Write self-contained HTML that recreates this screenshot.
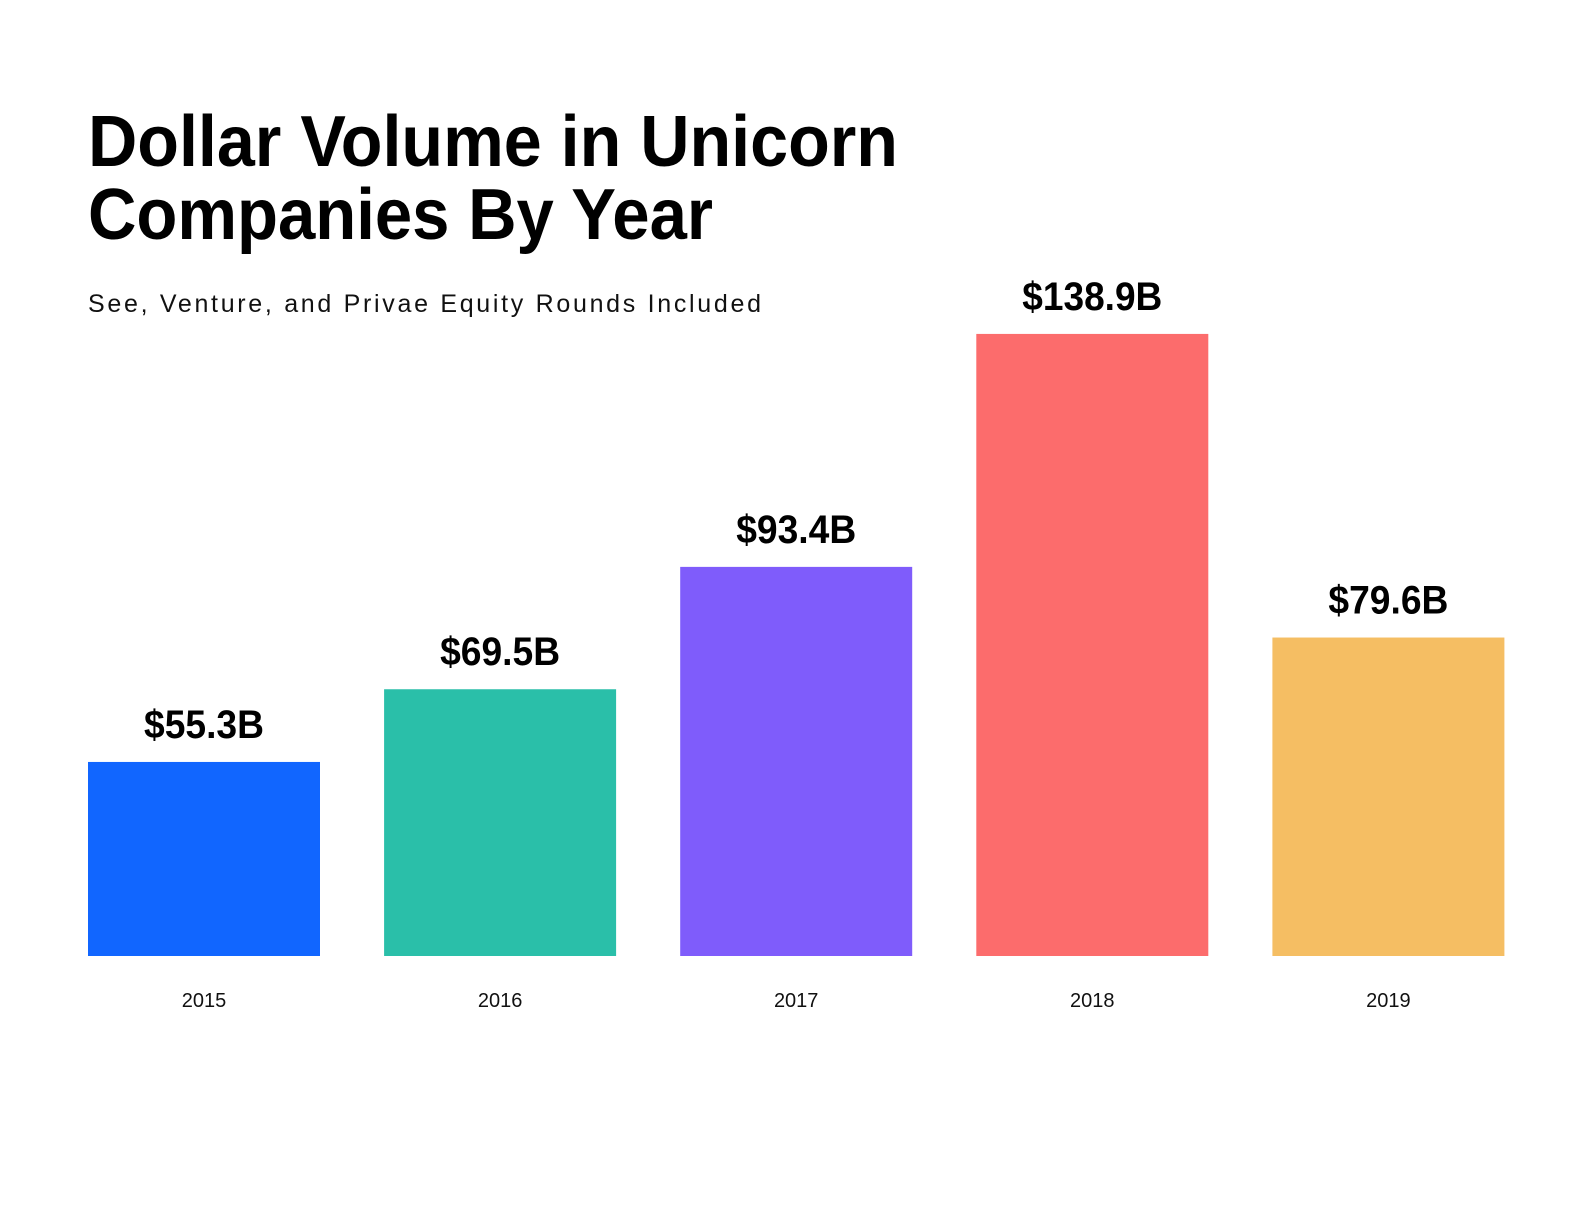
<!DOCTYPE html>
<html><head><meta charset="utf-8"><style>html,body{margin:0;padding:0;background:#fff}svg{display:block}</style></head>
<body>
<svg id="chart" width="1588" height="1212" viewBox="0 0 1588 1212" xmlns="http://www.w3.org/2000/svg" font-family="Liberation Sans, sans-serif">
<rect width="1588" height="1212" fill="#fff"/>
<text x="88" y="166" font-size="72" font-weight="bold" textLength="810" lengthAdjust="spacingAndGlyphs" fill="#000">Dollar Volume in Unicorn</text>
<text x="88" y="239" font-size="72" font-weight="bold" textLength="625" lengthAdjust="spacingAndGlyphs" fill="#000">Companies By Year</text>
<text x="88" y="312" font-size="25" textLength="673" lengthAdjust="spacing" fill="#111">See, Venture, and Privae Equity Rounds Included</text>
<g id="bars"></g>
</svg>
<script>
const categories = ["2015","2016","2017","2018","2019"];
const values = [55.3, 69.5, 93.4, 138.9, 79.6];
const valueLabels = ["$55.3B","$69.5B","$93.4B","$138.9B","$79.6B"];
const colors = ["#1166ff","#2abfa9","#7f5cfb","#fc6c6c","#f5be63"];

const NS = "http://www.w3.org/2000/svg";
const baseY = 956, domainMin = 17.4, pxPerUnit = 5.12;
const x0 = 88, step = 296.1, barW = 232;
function xScale(i){ return x0 + i*step; }
function yScale(v){ return baseY - (v - domainMin)*pxPerUnit; }
const g = document.getElementById('bars');
categories.forEach((c,i)=>{
  const x = xScale(i), y = yScale(values[i]);
  const r = document.createElementNS(NS,'rect');
  
  
  r.setAttribute('x',x); r.setAttribute('y',y);
  r.setAttribute('width',barW); r.setAttribute('height',baseY-y);
  r.setAttribute('fill',colors[i]);
  g.appendChild(r);
  const t = document.createElementNS(NS,'text');
  
  
  t.setAttribute('x',x+barW/2); t.setAttribute('y',y-24);
  t.setAttribute('text-anchor','middle');
  t.setAttribute('font-size','40');
  t.setAttribute('font-weight','bold');
  t.setAttribute('fill','#000');
  t.setAttribute('textLength', valueLabels[i].length*20);
  t.setAttribute('lengthAdjust','spacingAndGlyphs');
  t.textContent = valueLabels[i];
  g.appendChild(t);
  const yl = document.createElementNS(NS,'text');
  
  
  yl.setAttribute('x',x+barW/2); yl.setAttribute('y',baseY+51);
  yl.setAttribute('text-anchor','middle');
  yl.setAttribute('font-size','20');
  yl.setAttribute('fill','#111');
  yl.textContent = c;
  g.appendChild(yl);
});
</script>
</body></html>
